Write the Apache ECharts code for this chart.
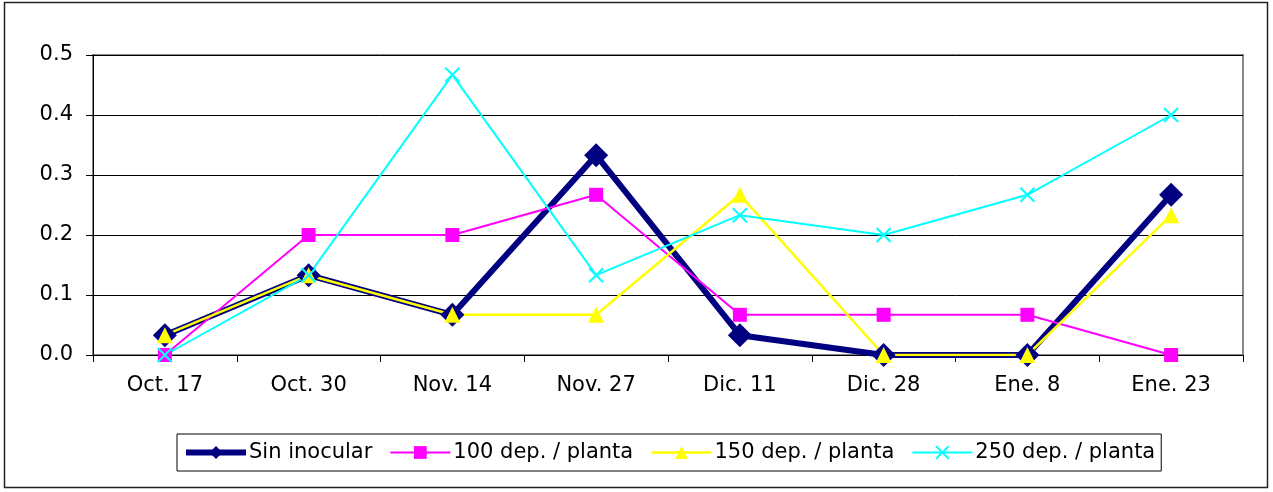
<!DOCTYPE html>
<html>
<head>
<meta charset="utf-8">
<script src="https://cdn.jsdelivr.net/npm/echarts@6/dist/echarts.min.js"></script>
<style>
html,body{margin:0;padding:0;background:#fff;}
#chart{width:1273px;height:492px;}
</style>
</head>
<body>
<div id="chart"></div>
<script>
const categories = ["Oct. 17", "Oct. 30", "Nov. 14", "Nov. 27", "Dic. 11", "Dic. 28", "Ene. 8", "Ene. 23"];
const sinInocular = [0.033, 0.133, 0.067, 0.333, 0.033, 0, 0, 0.267];
const dep100 = [0, 0.2, 0.2, 0.267, 0.067, 0.067, 0.067, 0];
const dep150 = [0.033, 0.133, 0.067, 0.067, 0.267, 0, 0, 0.233];
const dep250 = [0, 0.133, 0.467, 0.133, 0.233, 0.2, 0.267, 0.4];
const seriesNames = ["Sin inocular", "100 dep. / planta", "150 dep. / planta", "250 dep. / planta"];

const FONT = "DejaVu Sans";
const chart = echarts.init(document.getElementById('chart'), null, {renderer: 'canvas'});
chart.setOption({
  backgroundColor: '#fff',
  animation: false,
  textStyle: {fontFamily: FONT, color: '#000'},
  graphic: [{
    type: 'rect', silent: true, z: -1,
    shape: {x: 4.5, y: 2.5, width: 1263, height: 485},
    style: {fill: 'none', stroke: '#222', lineWidth: 1.5}
  }],
  grid: {left: 93, top: 55, right: 30, bottom: 137, show: true, borderColor: '#888', borderWidth: 2, backgroundColor: 'transparent'},
  legend: {
    left: 177, top: 434,
    padding: [8, 6, 8, 6],
    borderColor: '#000', borderWidth: 1,
    itemWidth: 60, itemHeight: 16, itemGap: 17,
    textStyle: {fontFamily: FONT, fontSize: 21, color: '#000', padding: [0, 0, 0, -2]},
    data: [
      {name: seriesNames[0], lineStyle: {width: 6}},
      {name: seriesNames[1], lineStyle: {width: 2}},
      {name: seriesNames[2], lineStyle: {width: 2.5}},
      {name: seriesNames[3], lineStyle: {width: 2}}
    ]
  },
  xAxis: {
    type: 'category', data: categories, boundaryGap: true,
    axisLine: {lineStyle: {color: '#000', width: 1}},
    axisTick: {show: true, length: 7, lineStyle: {color: '#000'}},
    axisLabel: {fontFamily: FONT, fontSize: 21, color: '#000', margin: 20},
    splitLine: {show: false}
  },
  yAxis: {
    type: 'value', min: 0, max: 0.5, interval: 0.1,
    axisLine: {show: true, lineStyle: {color: '#000', width: 1}},
    axisTick: {show: true, length: 7, lineStyle: {color: '#000'}},
    axisLabel: {fontFamily: FONT, fontSize: 21, color: '#000', margin: 20, formatter: v => v.toFixed(1)},
    splitLine: {show: true, lineStyle: {color: '#000', width: 1}}
  },
  series: [
    {name: seriesNames[0], type: 'line', data: sinInocular, symbol: 'diamond', symbolSize: 24,
     lineStyle: {color: '#000080', width: 6}, itemStyle: {color: '#000080'}},
    {name: seriesNames[1], type: 'line', data: dep100, symbol: 'rect', symbolSize: 14,
     lineStyle: {color: '#FF00FF', width: 2}, itemStyle: {color: '#FF00FF'}},
    {name: seriesNames[2], type: 'line', data: dep150, symbol: 'triangle', symbolSize: 16,
     lineStyle: {color: '#FFFF00', width: 2.5}, itemStyle: {color: '#FFFF00'}},
    {name: seriesNames[3], type: 'line', data: dep250, symbol: 'path://M0,0L20,20M20,0L0,20', symbolSize: 14,
     lineStyle: {color: '#00FFFF', width: 2}, itemStyle: {color: '#00FFFF', borderColor: '#00FFFF', borderWidth: 2}}
  ]
});
</script>
</body>
</html>
